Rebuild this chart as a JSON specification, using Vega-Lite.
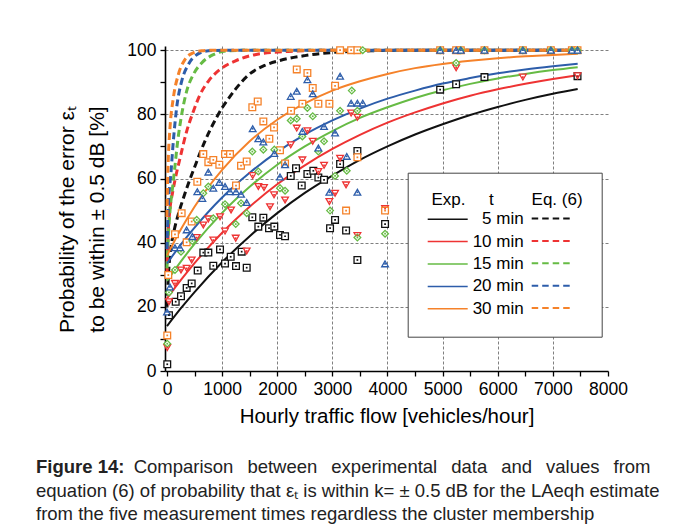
{
  "$schema": "https://vega.github.io/schema/vega-lite/v6.json",
  "width": 443,
  "height": 325,
  "autosize": {"type": "none"},
  "padding": {"left": 165, "top": 46, "right": 69, "bottom": 154},
  "background": "white",
  "config": {"view": {"stroke": null}, "font": "Liberation Sans"},
  "title": {
    "text": "Figure 14:",
    "subtitle": [
      "\u200b\u00a0\u00a0\u00a0\u00a0\u00a0\u00a0\u00a0\u00a0\u00a0\u00a0\u00a0\u00a0\u00a0\u00a0\u00a0\u00a0\u00a0\u00a0\u00a0Comparison\u00a0\u00a0\u2009between\u00a0\u00a0\u2009experimental\u00a0\u00a0\u2009data\u00a0\u00a0\u2009and\u00a0\u00a0\u2009values\u00a0\u00a0\u2009from",
      "equation (6) of probability that εₜ is within k= ± 0.5 dB for the LAeqh estimate",
      "from the five measurement times regardless the cluster membership"
    ],
    "orient": "bottom",
    "anchor": "start",
    "frame": "group",
    "dx": -129,
    "offset": 31,
    "font": "Liberation Sans",
    "fontSize": 18.5,
    "fontWeight": "bold",
    "color": "#222",
    "subtitleFont": "Liberation Sans",
    "subtitleFontSize": 18.5,
    "subtitleFontWeight": "normal",
    "subtitleColor": "#222",
    "subtitleLineHeight": 23.5,
    "subtitlePadding": -18.5
  },
  "datasets": {
    "curves": [
      {"s":"5 min","m":5,"k":"exp","x":0,"y":14},{"s":"5 min","m":5,"k":"exp","x":250,"y":19.5},{"s":"5 min","m":5,"k":"exp","x":500,"y":24.6},{"s":"5 min","m":5,"k":"exp","x":1000,"y":33.9},{"s":"5 min","m":5,"k":"exp","x":1500,"y":42},{"s":"5 min","m":5,"k":"exp","x":2000,"y":49.2},{"s":"5 min","m":5,"k":"exp","x":2500,"y":55.5},{"s":"5 min","m":5,"k":"exp","x":3000,"y":60.9},{"s":"5 min","m":5,"k":"exp","x":3500,"y":65.8},{"s":"5 min","m":5,"k":"exp","x":4000,"y":70},{"s":"5 min","m":5,"k":"exp","x":4500,"y":73.7},{"s":"5 min","m":5,"k":"exp","x":5000,"y":76.9},{"s":"5 min","m":5,"k":"exp","x":5500,"y":79.8},{"s":"5 min","m":5,"k":"exp","x":6000,"y":82.3},{"s":"5 min","m":5,"k":"exp","x":6500,"y":84.5},{"s":"5 min","m":5,"k":"exp","x":7000,"y":86.4},{"s":"5 min","m":5,"k":"exp","x":7450,"y":87.9},
      {"s":"10 min","m":10,"k":"exp","x":0,"y":22.6},{"s":"10 min","m":10,"k":"exp","x":250,"y":28.3},{"s":"10 min","m":10,"k":"exp","x":500,"y":33.6},{"s":"10 min","m":10,"k":"exp","x":1000,"y":43.1},{"s":"10 min","m":10,"k":"exp","x":1500,"y":51.2},{"s":"10 min","m":10,"k":"exp","x":2000,"y":58.2},{"s":"10 min","m":10,"k":"exp","x":2500,"y":64.1},{"s":"10 min","m":10,"k":"exp","x":3000,"y":69.2},{"s":"10 min","m":10,"k":"exp","x":3500,"y":73.6},{"s":"10 min","m":10,"k":"exp","x":4000,"y":77.4},{"s":"10 min","m":10,"k":"exp","x":4500,"y":80.6},{"s":"10 min","m":10,"k":"exp","x":5000,"y":83.4},{"s":"10 min","m":10,"k":"exp","x":5500,"y":85.8},{"s":"10 min","m":10,"k":"exp","x":6000,"y":87.8},{"s":"10 min","m":10,"k":"exp","x":6500,"y":89.5},{"s":"10 min","m":10,"k":"exp","x":7000,"y":91},{"s":"10 min","m":10,"k":"exp","x":7450,"y":92.2},
      {"s":"15 min","m":15,"k":"exp","x":0,"y":28.1},{"s":"15 min","m":15,"k":"exp","x":250,"y":34.1},{"s":"15 min","m":15,"k":"exp","x":500,"y":39.6},{"s":"15 min","m":15,"k":"exp","x":1000,"y":49.3},{"s":"15 min","m":15,"k":"exp","x":1500,"y":57.4},{"s":"15 min","m":15,"k":"exp","x":2000,"y":64.3},{"s":"15 min","m":15,"k":"exp","x":2500,"y":70},{"s":"15 min","m":15,"k":"exp","x":3000,"y":74.8},{"s":"15 min","m":15,"k":"exp","x":3500,"y":78.9},{"s":"15 min","m":15,"k":"exp","x":4000,"y":82.2},{"s":"15 min","m":15,"k":"exp","x":4500,"y":85.1},{"s":"15 min","m":15,"k":"exp","x":5000,"y":87.5},{"s":"15 min","m":15,"k":"exp","x":5500,"y":89.5},{"s":"15 min","m":15,"k":"exp","x":6000,"y":91.2},{"s":"15 min","m":15,"k":"exp","x":6500,"y":92.6},{"s":"15 min","m":15,"k":"exp","x":7000,"y":93.8},{"s":"15 min","m":15,"k":"exp","x":7450,"y":94.7},
      {"s":"20 min","m":20,"k":"exp","x":0,"y":33.5},{"s":"20 min","m":20,"k":"exp","x":250,"y":39.4},{"s":"20 min","m":20,"k":"exp","x":500,"y":44.7},{"s":"20 min","m":20,"k":"exp","x":1000,"y":54.1},{"s":"20 min","m":20,"k":"exp","x":1500,"y":61.8},{"s":"20 min","m":20,"k":"exp","x":2000,"y":68.3},{"s":"20 min","m":20,"k":"exp","x":2500,"y":73.7},{"s":"20 min","m":20,"k":"exp","x":3000,"y":78.1},{"s":"20 min","m":20,"k":"exp","x":3500,"y":81.8},{"s":"20 min","m":20,"k":"exp","x":4000,"y":84.9},{"s":"20 min","m":20,"k":"exp","x":4500,"y":87.4},{"s":"20 min","m":20,"k":"exp","x":5000,"y":89.6},{"s":"20 min","m":20,"k":"exp","x":5500,"y":91.3},{"s":"20 min","m":20,"k":"exp","x":6000,"y":92.8},{"s":"20 min","m":20,"k":"exp","x":6500,"y":94},{"s":"20 min","m":20,"k":"exp","x":7000,"y":95},{"s":"20 min","m":20,"k":"exp","x":7450,"y":95.8},
      {"s":"30 min","m":30,"k":"exp","x":0,"y":36},{"s":"30 min","m":30,"k":"exp","x":250,"y":44.1},{"s":"30 min","m":30,"k":"exp","x":500,"y":51.2},{"s":"30 min","m":30,"k":"exp","x":1000,"y":62.7},{"s":"30 min","m":30,"k":"exp","x":1500,"y":71.6},{"s":"30 min","m":30,"k":"exp","x":2000,"y":78.3},{"s":"30 min","m":30,"k":"exp","x":2500,"y":83.4},{"s":"30 min","m":30,"k":"exp","x":3000,"y":87.4},{"s":"30 min","m":30,"k":"exp","x":3500,"y":90.3},{"s":"30 min","m":30,"k":"exp","x":4000,"y":92.6},{"s":"30 min","m":30,"k":"exp","x":4500,"y":94.4},{"s":"30 min","m":30,"k":"exp","x":5000,"y":95.7},{"s":"30 min","m":30,"k":"exp","x":5500,"y":96.7},{"s":"30 min","m":30,"k":"exp","x":6000,"y":97.5},{"s":"30 min","m":30,"k":"exp","x":6500,"y":98.1},{"s":"30 min","m":30,"k":"exp","x":7000,"y":98.5},{"s":"30 min","m":30,"k":"exp","x":7450,"y":98.9},
      {"s":"5 min","m":5,"k":"eq","x":0,"y":20},{"s":"5 min","m":5,"k":"eq","x":30,"y":31},{"s":"5 min","m":5,"k":"eq","x":60,"y":37},{"s":"5 min","m":5,"k":"eq","x":120,"y":43},{"s":"5 min","m":5,"k":"eq","x":200,"y":48.5},{"s":"5 min","m":5,"k":"eq","x":300,"y":54},{"s":"5 min","m":5,"k":"eq","x":400,"y":59},{"s":"5 min","m":5,"k":"eq","x":500,"y":63.5},{"s":"5 min","m":5,"k":"eq","x":600,"y":68},{"s":"5 min","m":5,"k":"eq","x":750,"y":74},{"s":"5 min","m":5,"k":"eq","x":900,"y":79},{"s":"5 min","m":5,"k":"eq","x":1000,"y":82},{"s":"5 min","m":5,"k":"eq","x":1100,"y":84.5},{"s":"5 min","m":5,"k":"eq","x":1250,"y":88},{"s":"5 min","m":5,"k":"eq","x":1480,"y":92.3},{"s":"5 min","m":5,"k":"eq","x":1780,"y":95.3},{"s":"5 min","m":5,"k":"eq","x":2050,"y":96.8},{"s":"5 min","m":5,"k":"eq","x":2500,"y":98.3},{"s":"5 min","m":5,"k":"eq","x":3100,"y":99.4},{"s":"5 min","m":5,"k":"eq","x":3700,"y":99.8},{"s":"5 min","m":5,"k":"eq","x":4500,"y":100},{"s":"5 min","m":5,"k":"eq","x":7450,"y":100},
      {"s":"10 min","m":10,"k":"eq","x":0,"y":30},{"s":"10 min","m":10,"k":"eq","x":20,"y":42},{"s":"10 min","m":10,"k":"eq","x":54,"y":50.5},{"s":"10 min","m":10,"k":"eq","x":100,"y":55.5},{"s":"10 min","m":10,"k":"eq","x":145,"y":59.5},{"s":"10 min","m":10,"k":"eq","x":236,"y":66.3},{"s":"10 min","m":10,"k":"eq","x":357,"y":74.7},{"s":"10 min","m":10,"k":"eq","x":478,"y":80.9},{"s":"10 min","m":10,"k":"eq","x":599,"y":86.1},{"s":"10 min","m":10,"k":"eq","x":750,"y":90.3},{"s":"10 min","m":10,"k":"eq","x":962,"y":94},{"s":"10 min","m":10,"k":"eq","x":1234,"y":96.6},{"s":"10 min","m":10,"k":"eq","x":1597,"y":98.6},{"s":"10 min","m":10,"k":"eq","x":2200,"y":99.6},{"s":"10 min","m":10,"k":"eq","x":3000,"y":100},{"s":"10 min","m":10,"k":"eq","x":7450,"y":100},
      {"s":"15 min","m":15,"k":"eq","x":0,"y":32},{"s":"15 min","m":15,"k":"eq","x":25,"y":42},{"s":"15 min","m":15,"k":"eq","x":60,"y":51},{"s":"15 min","m":15,"k":"eq","x":100,"y":57},{"s":"15 min","m":15,"k":"eq","x":133,"y":62},{"s":"15 min","m":15,"k":"eq","x":194,"y":71.6},{"s":"15 min","m":15,"k":"eq","x":266,"y":79.9},{"s":"15 min","m":15,"k":"eq","x":357,"y":87.2},{"s":"15 min","m":15,"k":"eq","x":478,"y":92.4},{"s":"15 min","m":15,"k":"eq","x":629,"y":96},{"s":"15 min","m":15,"k":"eq","x":840,"y":98.6},{"s":"15 min","m":15,"k":"eq","x":1113,"y":99.8},{"s":"15 min","m":15,"k":"eq","x":1600,"y":100},{"s":"15 min","m":15,"k":"eq","x":7450,"y":100},
      {"s":"20 min","m":20,"k":"eq","x":0,"y":38},{"s":"20 min","m":20,"k":"eq","x":24,"y":51},{"s":"20 min","m":20,"k":"eq","x":73,"y":62},{"s":"20 min","m":20,"k":"eq","x":115,"y":71.6},{"s":"20 min","m":20,"k":"eq","x":175,"y":82},{"s":"20 min","m":20,"k":"eq","x":266,"y":90.3},{"s":"20 min","m":20,"k":"eq","x":387,"y":95.5},{"s":"20 min","m":20,"k":"eq","x":539,"y":98.6},{"s":"20 min","m":20,"k":"eq","x":750,"y":99.8},{"s":"20 min","m":20,"k":"eq","x":1100,"y":100},{"s":"20 min","m":20,"k":"eq","x":7450,"y":100},
      {"s":"30 min","m":30,"k":"eq","x":0,"y":48},{"s":"30 min","m":30,"k":"eq","x":8,"y":57},{"s":"30 min","m":30,"k":"eq","x":24,"y":66.3},{"s":"30 min","m":30,"k":"eq","x":54,"y":75.7},{"s":"30 min","m":30,"k":"eq","x":115,"y":85.1},{"s":"30 min","m":30,"k":"eq","x":206,"y":92.4},{"s":"30 min","m":30,"k":"eq","x":327,"y":97.1},{"s":"30 min","m":30,"k":"eq","x":478,"y":99.2},{"s":"30 min","m":30,"k":"eq","x":629,"y":99.8},{"s":"30 min","m":30,"k":"eq","x":900,"y":100},{"s":"30 min","m":30,"k":"eq","x":7450,"y":100}
    ],
    "pts": [
      {"s":"5 min","x":5,"y":2.1},{"s":"5 min","x":36,"y":17.4},{"s":"5 min","x":158,"y":21.6},{"s":"5 min","x":254,"y":23.3},{"s":"5 min","x":357,"y":25.9},{"s":"5 min","x":448,"y":27.3},{"s":"5 min","x":557,"y":31.3},{"s":"5 min","x":659,"y":36.9},{"s":"5 min","x":750,"y":36.9},{"s":"5 min","x":840,"y":32.8},{"s":"5 min","x":962,"y":37.9},{"s":"5 min","x":1053,"y":33.5},{"s":"5 min","x":1156,"y":35.6},{"s":"5 min","x":1252,"y":32.7},{"s":"5 min","x":1355,"y":37.2},{"s":"5 min","x":1446,"y":32.2},{"s":"5 min","x":1548,"y":47.9},{"s":"5 min","x":1657,"y":45},{"s":"5 min","x":1748,"y":47.8},{"s":"5 min","x":1851,"y":44.5},{"s":"5 min","x":1947,"y":45},{"s":"5 min","x":2050,"y":42.4},{"s":"5 min","x":2142,"y":42},{"s":"5 min","x":2245,"y":60.8},{"s":"5 min","x":2341,"y":63.2},{"s":"5 min","x":2444,"y":57.8},{"s":"5 min","x":2547,"y":61.4},{"s":"5 min","x":2655,"y":62.4},{"s":"5 min","x":2746,"y":60.3},{"s":"5 min","x":2849,"y":59.6},{"s":"5 min","x":2958,"y":44.5},{"s":"5 min","x":3049,"y":47.1},{"s":"5 min","x":3140,"y":64.5},{"s":"5 min","x":3249,"y":43.8},{"s":"5 min","x":3454,"y":68.6},{"s":"5 min","x":3454,"y":34.6},{"s":"5 min","x":3956,"y":45.8},{"s":"5 min","x":4955,"y":87.7},{"s":"5 min","x":5245,"y":89.4},{"s":"5 min","x":5759,"y":91.6},{"s":"5 min","x":7447,"y":91.9},
      {"s":"10 min","x":5,"y":7.3},{"s":"10 min","x":36,"y":21.6},{"s":"10 min","x":145,"y":27.3},{"s":"10 min","x":254,"y":31.5},{"s":"10 min","x":357,"y":32},{"s":"10 min","x":448,"y":34.6},{"s":"10 min","x":539,"y":41.6},{"s":"10 min","x":659,"y":45.5},{"s":"10 min","x":750,"y":47.4},{"s":"10 min","x":840,"y":40.8},{"s":"10 min","x":962,"y":48.1},{"s":"10 min","x":1053,"y":43.6},{"s":"10 min","x":1162,"y":50.2},{"s":"10 min","x":1247,"y":41.4},{"s":"10 min","x":1446,"y":37.4},{"s":"10 min","x":1555,"y":60.9},{"s":"10 min","x":1657,"y":57.5},{"s":"10 min","x":1760,"y":57.2},{"s":"10 min","x":1869,"y":51.2},{"s":"10 min","x":1942,"y":54.9},{"s":"10 min","x":2142,"y":53.3},{"s":"10 min","x":2245,"y":70.5},{"s":"10 min","x":2354,"y":75.7},{"s":"10 min","x":2456,"y":65.8},{"s":"10 min","x":2547,"y":74.9},{"s":"10 min","x":2644,"y":71.6},{"s":"10 min","x":2746,"y":62.2},{"s":"10 min","x":2849,"y":64.1},{"s":"10 min","x":2946,"y":52.8},{"s":"10 min","x":3049,"y":55.4},{"s":"10 min","x":3140,"y":66.3},{"s":"10 min","x":3249,"y":58},{"s":"10 min","x":3340,"y":80.4},{"s":"10 min","x":3454,"y":79.1},{"s":"10 min","x":3454,"y":42.2},{"s":"10 min","x":3956,"y":50.6},{"s":"10 min","x":5245,"y":94.5},{"s":"10 min","x":6456,"y":91.6},{"s":"10 min","x":7447,"y":92},
      {"s":"30 min","x":5,"y":11.1},{"s":"30 min","x":24,"y":29.9},{"s":"30 min","x":145,"y":42.6},{"s":"30 min","x":266,"y":49.2},{"s":"30 min","x":357,"y":40.1},{"s":"30 min","x":448,"y":46.6},{"s":"30 min","x":550,"y":59},{"s":"30 min","x":659,"y":67.6},{"s":"30 min","x":750,"y":65.1},{"s":"30 min","x":840,"y":65.8},{"s":"30 min","x":949,"y":64.3},{"s":"30 min","x":1053,"y":67.6},{"s":"30 min","x":1143,"y":67.6},{"s":"30 min","x":1252,"y":57.8},{"s":"30 min","x":1343,"y":64},{"s":"30 min","x":1446,"y":65.3},{"s":"30 min","x":1548,"y":82.2},{"s":"30 min","x":1646,"y":84},{"s":"30 min","x":1748,"y":77.8},{"s":"30 min","x":1857,"y":72.4},{"s":"30 min","x":1942,"y":75.9},{"s":"30 min","x":2050,"y":68.8},{"s":"30 min","x":2142,"y":64.7},{"s":"30 min","x":2250,"y":81.1},{"s":"30 min","x":2354,"y":94},{"s":"30 min","x":2456,"y":83.3},{"s":"30 min","x":2547,"y":92.9},{"s":"30 min","x":2644,"y":88.2},{"s":"30 min","x":2746,"y":83.3},{"s":"30 min","x":2946,"y":83.3},{"s":"30 min","x":3049,"y":88.9},{"s":"30 min","x":3140,"y":100},{"s":"30 min","x":3249,"y":50},{"s":"30 min","x":3340,"y":100},{"s":"30 min","x":3454,"y":100},{"s":"30 min","x":3454,"y":66.6},{"s":"30 min","x":3956,"y":50},{"s":"30 min","x":4955,"y":100},{"s":"30 min","x":5245,"y":100},{"s":"30 min","x":5330,"y":100},{"s":"30 min","x":5759,"y":100},{"s":"30 min","x":6456,"y":100},{"s":"30 min","x":6964,"y":100},{"s":"30 min","x":7345,"y":100},{"s":"30 min","x":7447,"y":100},
      {"s":"15 min","x":5,"y":8.5},{"s":"15 min","x":36,"y":24.5},{"s":"15 min","x":145,"y":31.5},{"s":"15 min","x":254,"y":37.2},{"s":"15 min","x":460,"y":40.5},{"s":"15 min","x":539,"y":47.1},{"s":"15 min","x":659,"y":55.4},{"s":"15 min","x":750,"y":57.5},{"s":"15 min","x":840,"y":47.6},{"s":"15 min","x":1053,"y":52},{"s":"15 min","x":1247,"y":45.8},{"s":"15 min","x":1343,"y":52.3},{"s":"15 min","x":1446,"y":49.2},{"s":"15 min","x":1548,"y":68.4},{"s":"15 min","x":1657,"y":62.2},{"s":"15 min","x":1748,"y":69},{"s":"15 min","x":1947,"y":69},{"s":"15 min","x":2050,"y":57},{"s":"15 min","x":2142,"y":56.2},{"s":"15 min","x":2245,"y":78.1},{"s":"15 min","x":2354,"y":78.6},{"s":"15 min","x":2456,"y":73.1},{"s":"15 min","x":2547,"y":82},{"s":"15 min","x":2644,"y":79.4},{"s":"15 min","x":2746,"y":68.4},{"s":"15 min","x":2849,"y":71.6},{"s":"15 min","x":2958,"y":50},{"s":"15 min","x":3049,"y":60.8},{"s":"15 min","x":3140,"y":81.1},{"s":"15 min","x":3261,"y":62.4},{"s":"15 min","x":3352,"y":87.4},{"s":"15 min","x":3454,"y":81.1},{"s":"15 min","x":3454,"y":41.6},{"s":"15 min","x":3551,"y":100},{"s":"15 min","x":3956,"y":42.8},{"s":"15 min","x":4955,"y":100},{"s":"15 min","x":5245,"y":96},{"s":"15 min","x":5330,"y":100},{"s":"15 min","x":5759,"y":100},{"s":"15 min","x":6456,"y":100},{"s":"15 min","x":6964,"y":100},{"s":"15 min","x":7345,"y":100},{"s":"15 min","x":7447,"y":100},
      {"s":"20 min","x":0,"y":18.4},{"s":"20 min","x":54,"y":26.2},{"s":"20 min","x":145,"y":38.4},{"s":"20 min","x":236,"y":38.4},{"s":"20 min","x":357,"y":44},{"s":"20 min","x":460,"y":41.9},{"s":"20 min","x":550,"y":55.9},{"s":"20 min","x":641,"y":53.8},{"s":"20 min","x":750,"y":62},{"s":"20 min","x":840,"y":57},{"s":"20 min","x":949,"y":58.8},{"s":"20 min","x":1053,"y":57.5},{"s":"20 min","x":1143,"y":55.9},{"s":"20 min","x":1252,"y":55.9},{"s":"20 min","x":1343,"y":55.1},{"s":"20 min","x":1446,"y":52.5},{"s":"20 min","x":1555,"y":75.5},{"s":"20 min","x":1657,"y":72.4},{"s":"20 min","x":1748,"y":71.4},{"s":"20 min","x":1947,"y":67.8},{"s":"20 min","x":2050,"y":60.5},{"s":"20 min","x":2142,"y":64.3},{"s":"20 min","x":2245,"y":85.6},{"s":"20 min","x":2354,"y":87.2},{"s":"20 min","x":2456,"y":74.7},{"s":"20 min","x":2547,"y":90.8},{"s":"20 min","x":2644,"y":86.4},{"s":"20 min","x":2746,"y":69.5},{"s":"20 min","x":2849,"y":76.2},{"s":"20 min","x":2946,"y":55.7},{"s":"20 min","x":3049,"y":74.2},{"s":"20 min","x":3140,"y":91.9},{"s":"20 min","x":3261,"y":66.9},{"s":"20 min","x":3340,"y":83.5},{"s":"20 min","x":3454,"y":83.5},{"s":"20 min","x":3551,"y":83.5},{"s":"20 min","x":3454,"y":55.7},{"s":"20 min","x":3956,"y":33.4},{"s":"20 min","x":4955,"y":100},{"s":"20 min","x":5245,"y":100},{"s":"20 min","x":5330,"y":100},{"s":"20 min","x":5759,"y":100},{"s":"20 min","x":6456,"y":100},{"s":"20 min","x":6964,"y":100},{"s":"20 min","x":7345,"y":100},{"s":"20 min","x":7447,"y":100}
    ]
  },
  "encoding": {
    "x": {
      "field": "x", "type": "quantitative",
      "scale": {"domain": [-36, 8000], "nice": false, "zero": false},
      "axis": {
        "title": "Hourly traffic flow [vehicles/hour]",
        "values": [0,500,1000,1500,2000,2500,3000,3500,4000,4500,5000,5500,6000,6500,7000,7500,8000],
        "format": "d",
        "labelExpr": "datum.value % 1000 === 0 ? datum.label : ''",
        "labelFlush": false, "labelOverlap": false,
        "labelFont": "Liberation Sans", "labelFontSize": 17.5, "labelColor": "#000", "labelPadding": 4,
        "tickSize": 5, "tickColor": "#000", "tickWidth": 1.3,
        "domainColor": "#000", "domainWidth": 1.6,
        "grid": true, "gridColor": "#808080", "gridDash": [3, 2], "gridWidth": 1,
        "gridOpacity": {"condition": {"test": "datum.value % 1000 === 0 && datum.value > 0 && datum.value < 8000", "value": 1}, "value": 0},
        "titleFont": "Liberation Sans", "titleFontSize": 20.5, "titleFontWeight": "normal", "titleColor": "#000", "titlePadding": 9
      }
    },
    "y": {
      "field": "y", "type": "quantitative",
      "scale": {"domain": [0, 101.3], "nice": false},
      "axis": {
        "title": ["Probability of the error εₜ", "to be within ± 0.5 dB [%]"],
        "values": [0,10,20,30,40,50,60,70,80,90,100],
        "labelExpr": "datum.value % 20 === 0 ? datum.label : ''",
        "labelFlush": false, "labelOverlap": false,
        "labelFont": "Liberation Sans", "labelFontSize": 17.5, "labelColor": "#000", "labelPadding": 4,
        "tickSize": 5, "tickColor": "#000", "tickWidth": 1.3,
        "domainColor": "#000", "domainWidth": 1.6,
        "grid": true, "gridColor": "#808080", "gridDash": [3, 2], "gridWidth": 1,
        "gridOpacity": {"condition": {"test": "datum.value % 20 === 0 && datum.value > 0", "value": 1}, "value": 0},
        "titleFont": "Liberation Sans", "titleFontSize": 21, "titleFontWeight": "normal", "titleColor": "#000",
        "titleLineHeight": 30, "titlePadding": 19, "titleY": 173
      }
    }
  },
  "layer": [
    {
      "data": {"name": "curves"},
      "transform": [{"filter": "datum.k === 'eq'"}],
      "mark": {"type": "line", "strokeDash": [7, 4], "strokeWidth": 3, "interpolate": "monotone"},
      "encoding": {
        "color": {
          "field": "m", "type": "ordinal",
          "scale": {"domain": [5, 10, 15, 20, 30], "range": ["#111111", "#ee3333", "#66bb44", "#2d5daa", "#f5822a"]},
          "legend": {
            "orient": "none", "legendX": 365.7, "legendY": 164, "direction": "vertical",
            "title": null, "labelExpr": "''",
            "symbolType": "M-1,0H4.1", "symbolSize": 225, "symbolStrokeWidth": 2, "symbolDash": [6.5, 4],
            "labelFontSize": 17, "rowPadding": 4.4, "padding": 0, "zindex": 2
          }
        }
      }
    },
    {
      "data": {"name": "curves"},
      "transform": [{"filter": "datum.k === 'exp'"}],
      "mark": {"type": "line", "strokeWidth": 2, "interpolate": "monotone"},
      "encoding": {
        "stroke": {
          "field": "s", "type": "nominal",
          "scale": {"domain": ["5 min", "10 min", "15 min", "20 min", "30 min"], "range": ["#111111", "#ee3333", "#66bb44", "#2d5daa", "#f5822a"]},
          "legend": {
            "orient": "none", "legendX": 242.7, "legendY": 126.7, "direction": "vertical",
            "title": "\u200b\u00a0Exp.\u00a0\u00a0\u00a0\u00a0\u00a0t\u00a0\u00a0\u00a0\u00a0\u00a0\u00a0\u00a0\u00a0Eq. (6)",
            "titleFont": "Liberation Sans", "titleFontSize": 17, "titleFontWeight": "normal", "titleColor": "#000", "titlePadding": 2, "titleLimit": 0,
            "symbolType": "M-1,0H4.333", "symbolSize": 225, "symbolStrokeWidth": 1.5,
            "labelAlign": "right", "labelOffset": 80, "labelFont": "Liberation Sans", "labelFontSize": 17, "labelColor": "#000", "labelLimit": 200,
            "rowPadding": 4.4, "padding": 19, "fillColor": "white", "strokeColor": "#444", "zindex": 1
          }
        }
      }
    },
    {
      "data": {"name": "pts"},
      "mark": {"type": "point", "fill": "white", "fillOpacity": 1, "opacity": 1, "strokeWidth": 1.3, "size": 45},
      "encoding": {
        "stroke": {
          "field": "s", "type": "nominal",
          "scale": {"domain": ["5 min", "10 min", "15 min", "20 min", "30 min"], "range": ["#111111", "#ee3333", "#66bb44", "#2d5daa", "#f5822a"]},
          "legend": null
        },
        "shape": {
          "field": "s", "type": "nominal",
          "scale": {"domain": ["5 min", "10 min", "15 min", "20 min", "30 min"], "range": ["square", "triangle-down", "diamond", "triangle-up", "square"]},
          "legend": null
        }
      }
    },
    {
      "data": {"name": "pts"},
      "mark": {"type": "point", "filled": true, "shape": "square", "size": 3, "strokeWidth": 0, "opacity": 1},
      "encoding": {
        "fill": {
          "field": "s", "type": "nominal",
          "scale": {"domain": ["5 min", "10 min", "15 min", "20 min", "30 min"], "range": ["#111111", "#ee3333", "#66bb44", "#2d5daa", "#f5822a"]},
          "legend": null
        }
      }
    }
  ],
  "resolve": {"scale": {"stroke": "independent", "color": "independent", "fill": "independent", "shape": "independent"}}
}
